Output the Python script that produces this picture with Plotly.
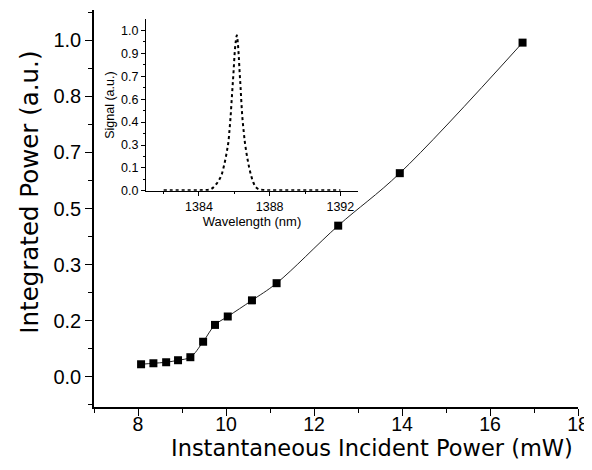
import plotly.graph_objects as go

# main data: integrated power vs incident power
incident_mw = [8.07, 8.35, 8.64, 8.91, 9.19, 9.48, 9.75, 10.04, 10.59, 11.15, 12.55, 13.95, 16.74]
integrated_au = [0.037, 0.040, 0.043, 0.049, 0.058, 0.104, 0.154, 0.179, 0.227, 0.278, 0.449, 0.605, 0.993]

main_y_ticks = [0, 1 / 6, 2 / 6, 3 / 6, 4 / 6, 5 / 6, 1.0]
main_y_labels = ['0.0', '0.2', '0.3', '0.5', '0.7', '0.8', '1.0']
main_x_ticks = [8, 10, 12, 14, 16, 18]

# inset: emission spectrum
wavelength_nm = [1382.0, 1382.5, 1383.0, 1383.5, 1384.0, 1384.3, 1384.6, 1384.8, 1385.0, 1385.15,
                 1385.28, 1385.4, 1385.5, 1385.6, 1385.66, 1385.72, 1385.78, 1385.84, 1385.9,
                 1385.96, 1386.02, 1386.08, 1386.14, 1386.2, 1386.25, 1386.3, 1386.35, 1386.4,
                 1386.46, 1386.53, 1386.6, 1386.68, 1386.76, 1386.85, 1386.94, 1387.05, 1387.2,
                 1387.4, 1387.7, 1388.0, 1388.5, 1389.0, 1389.5, 1390.0, 1390.5, 1391.0, 1391.5, 1392.0]
signal_au = [0.004, 0.004, 0.004, 0.004, 0.004, 0.005, 0.008, 0.02, 0.045, 0.07,
             0.1, 0.15, 0.2, 0.26, 0.3, 0.37, 0.45, 0.55, 0.65,
             0.75, 0.86, 0.93, 0.97, 0.92, 0.84, 0.74, 0.65, 0.55,
             0.45, 0.37, 0.3, 0.24, 0.19, 0.14, 0.1, 0.06, 0.025,
             0.009, 0.005, 0.004, 0.004, 0.004, 0.004, 0.004, 0.004, 0.004, 0.004, 0.004]

inset_x_ticks = [1384, 1388, 1392]
inset_y_ticks = [0, 1 / 7, 2 / 7, 3 / 7, 4 / 7, 5 / 7, 6 / 7, 1.0]
inset_y_labels = ['0.0', '0.1', '0.3', '0.4', '0.6', '0.7', '0.9', '1.0']

FONT = 'Liberation Sans, Arial, sans-serif'
WIDE = 'DejaVu Sans, sans-serif'

fig = go.Figure()

fig.add_trace(go.Scatter(
    x=incident_mw, y=integrated_au,
    mode='lines+markers',
    line=dict(color='#222', width=1, shape='spline'),
    marker=dict(symbol='square', size=8, color='black'),
    showlegend=False,
))

fig.add_trace(go.Scatter(
    x=wavelength_nm, y=signal_au,
    mode='lines',
    line=dict(color='black', width=2, dash='dot', shape='spline'),
    xaxis='x2', yaxis='y2',
    showlegend=False,
))

# axis titles as annotations: in the original they sit off-centre
fig.add_annotation(text='Instantaneous Incident Power (mW)', xref='paper', yref='paper',
                   x=0.574, y=-0.104, xanchor='center', yanchor='middle',
                   showarrow=False, font=dict(size=22.5, family=WIDE))
fig.add_annotation(text='Integrated Power (a.u.)', xref='paper', yref='paper',
                   x=-0.132, y=0.54, xanchor='center', yanchor='middle', textangle=-90,
                   showarrow=False, font=dict(size=24.5, family=WIDE))

# page body has an 8px margin, so the figure is sized to fit inside the window
fig.update_layout(
    width=584, height=454,
    margin=dict(l=86, r=14, t=2, b=55),
    paper_bgcolor='white', plot_bgcolor='rgba(0,0,0,0)',
    font=dict(family=FONT, color='black'),
    xaxis=dict(
        range=[7, 18], showgrid=False, zeroline=False, automargin=False,
        showline=True, linecolor='black', linewidth=1.5,
        ticks='outside', ticklen=7, tickwidth=1.2, tickcolor='black',
        tickmode='array', tickvals=main_x_ticks, ticklabelstandoff=-8,
        minor=dict(tickmode='array', tickvals=[7, 9, 11, 13, 15, 17], ticks='outside', ticklen=4,
                   tickcolor='black', tickwidth=1.2),
        tickfont=dict(size=19.5),
    ),
    yaxis=dict(
        range=[-0.09, 1.09], showgrid=False, zeroline=False, automargin=False,
        showline=True, linecolor='black', linewidth=1.5,
        ticks='outside', ticklen=7, tickwidth=1.2, tickcolor='black',
        tickmode='array', tickvals=main_y_ticks, ticktext=main_y_labels,
        minor=dict(tickmode='array',
                   tickvals=[-1 / 12, 1 / 12, 3 / 12, 5 / 12, 7 / 12, 9 / 12, 11 / 12, 13 / 12],
                   ticks='outside', ticklen=4, tickcolor='black', tickwidth=1.2),
        tickfont=dict(size=20),
    ),
    xaxis2=dict(
        domain=[0.1074, 0.5455], anchor='y2', automargin=False,
        range=[1381, 1393], showgrid=False, zeroline=False,
        showline=True, linecolor='black', linewidth=1,
        ticks='outside', ticklen=4, tickcolor='black', tickwidth=1,
        tickmode='array', tickvals=inset_x_ticks,
        minor=dict(tickmode='array', tickvals=[1382, 1386, 1390], ticks='outside', ticklen=2,
                   tickcolor='black'),
        tickfont=dict(size=12.5),
        title=dict(text='Wavelength (nm)', font=dict(size=13), standoff=3),
    ),
    yaxis2=dict(
        domain=[0.5445, 0.9766], anchor='x2', automargin=False,
        range=[0, 1.07], showgrid=False, zeroline=False,
        showline=True, linecolor='black', linewidth=1,
        ticks='outside', ticklen=4, tickcolor='black', tickwidth=1,
        tickmode='array', tickvals=inset_y_ticks, ticktext=inset_y_labels,
        minor=dict(tickmode='array',
                   tickvals=[1 / 14, 3 / 14, 5 / 14, 7 / 14, 9 / 14, 11 / 14, 13 / 14],
                   ticks='outside', ticklen=2, tickcolor='black'),
        tickfont=dict(size=12.5),
        title=dict(text='Signal (a.u.)', font=dict(size=12.5), standoff=3),
    ),
)

fig.write_html('out.html')
